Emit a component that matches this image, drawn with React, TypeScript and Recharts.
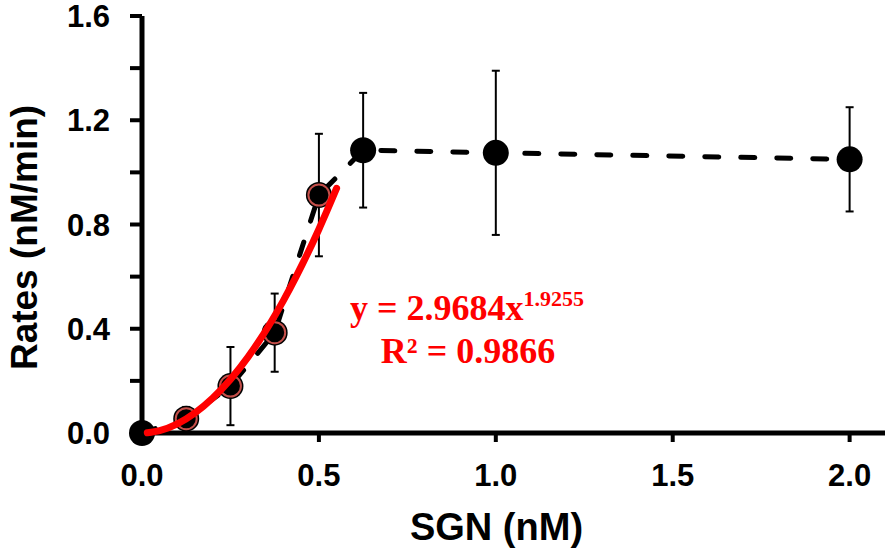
import React from 'react';
import { ComposedChart, Line, Scatter, XAxis, YAxis, ErrorBar } from 'recharts';

// SGN concentration (nM) vs. rate (nM/min), mean ± error
const sgn = [0, 0.125, 0.25, 0.375, 0.5, 0.625, 1.0, 2.0];
const rates = [0, 0.055, 0.18, 0.385, 0.913, 1.085, 1.075, 1.05];
const rateErr = [0, 0.045, 0.15, 0.15, 0.235, 0.22, 0.315, 0.2];
// points that went into the power fit (drawn with a red ring)
const usedInFit = [false, true, true, true, true, false, false, false];

// red power-law fit curve
const fitX = [0.015, 0.05, 0.1, 0.2, 0.3, 0.4, 0.5, 0.55];
const fitY = [0.001, 0.009, 0.035, 0.134, 0.292, 0.509, 0.782, 0.939];

const xTicks = [0, 0.5, 1.0, 1.5, 2.0];
const yTicks = [0, 0.2, 0.4, 0.6, 0.8, 1.0, 1.2, 1.4, 1.6];
const yLabelled = [0, 0.4, 0.8, 1.2, 1.6];

const points = sgn.map((x, i) => ({ x, y: rates[i], err: rateErr[i], fit: usedInFit[i] }));
const fitLine = fitX.map((x, i) => ({ x, y: fitY[i] }));

const SANS = '"Liberation Sans", Arial, sans-serif';
const SERIF = '"Liberation Serif", "Times New Roman", serif';

function Dot(props: any) {
  const { cx, cy, payload } = props;
  if (cx == null || cy == null) return null;
  return (
    <g>
      <circle cx={cx} cy={cy} r={13} fill="#000" />
      {payload.fit && <circle cx={cx} cy={cy} r={10.5} fill="none" stroke="#c44f4a" strokeWidth={2} />}
    </g>
  );
}

function YTick(props: any) {
  const { x, y, payload } = props;
  if (!yLabelled.includes(payload.value)) return <g />;
  return (
    <text x={x} y={y} dy="0.355em" textAnchor="end" fontFamily={SANS} fontWeight="bold" fontSize={31} fill="#000">
      {Number(payload.value).toFixed(1)}
    </text>
  );
}

export default function App() {
  return (
    <div style={{ position: 'absolute', left: 0, top: 0, width: 885, height: 551, background: '#fff' }}>
      <ComposedChart width={885} height={551} margin={{ top: 16, right: 0, left: 0, bottom: 0 }}>
        <XAxis
          type="number"
          dataKey="x"
          domain={[0, 2.1]}
          ticks={xTicks}
          tickFormatter={(v: number) => v.toFixed(1)}
          height={118}
          tickSize={9}
          tickMargin={22}
          axisLine={{ stroke: '#000', strokeWidth: 5 }}
          tickLine={{ stroke: '#000', strokeWidth: 4 }}
          tick={{ fill: '#000', fontFamily: SANS, fontWeight: 'bold', fontSize: 31 }}
          label={{
            content: (p: any) => (
              <text
                x={p.viewBox.x + p.viewBox.width / 2 - 17}
                y={p.viewBox.y + 107}
                textAnchor="middle"
                fontFamily={SANS}
                fontWeight="bold"
                fontSize={38}
                fill="#000"
              >
                SGN (nM)
              </text>
            ),
          }}
        />
        <YAxis
          type="number"
          dataKey="y"
          domain={[0, 1.6]}
          ticks={yTicks}
          width={142}
          tickSize={12}
          tickMargin={20}
          axisLine={{ stroke: '#000', strokeWidth: 5 }}
          tickLine={{ stroke: '#000', strokeWidth: 4 }}
          tick={<YTick />}
          label={{
            content: (p: any) => {
              const cx = 37;
              const cy = p.viewBox.y + p.viewBox.height / 2 + 13;
              return (
                <text
                  x={cx}
                  y={cy}
                  transform={`rotate(-90, ${cx}, ${cy})`}
                  textAnchor="middle"
                  fontFamily={SANS}
                  fontWeight="bold"
                  fontSize={37}
                  fill="#000"
                >
                  Rates (nM/min)
                </text>
              );
            },
          }}
        />
        <Line
          data={points}
          dataKey="y"
          type="linear"
          stroke="#000"
          strokeWidth={5}
          strokeDasharray="14 22"
          strokeLinecap="round"
          dot={false}
          activeDot={false}
          isAnimationActive={false}
        />
        <Scatter data={points} dataKey="y" shape={<Dot />} isAnimationActive={false}>
          <ErrorBar dataKey="err" direction="y" width={4} stroke="#000" strokeWidth={2} />
        </Scatter>
        <Line
          data={fitLine}
          dataKey="y"
          type="monotone"
          stroke="#ff0000"
          strokeWidth={7}
          strokeLinecap="round"
          dot={false}
          activeDot={false}
          isAnimationActive={false}
          {...({ zIndex: 1000 } as any)}
        />
      </ComposedChart>
      <div
        style={{
          position: 'absolute',
          left: 315,
          top: 289,
          width: 300,
          textAlign: 'center',
          fontFamily: SERIF,
          fontWeight: 'bold',
          fontSize: 36,
          lineHeight: '38px',
          color: '#ff0000',
          whiteSpace: 'nowrap',
        }}
      >
        <div style={{ paddingLeft: 4 }}>
          y = 2.9684x<span style={{ fontSize: 22, position: 'relative', top: -14 }}>1.9255</span>
        </div>
        <div style={{ paddingLeft: 6 }}>R² = 0.9866</div>
      </div>
    </div>
  );
}
